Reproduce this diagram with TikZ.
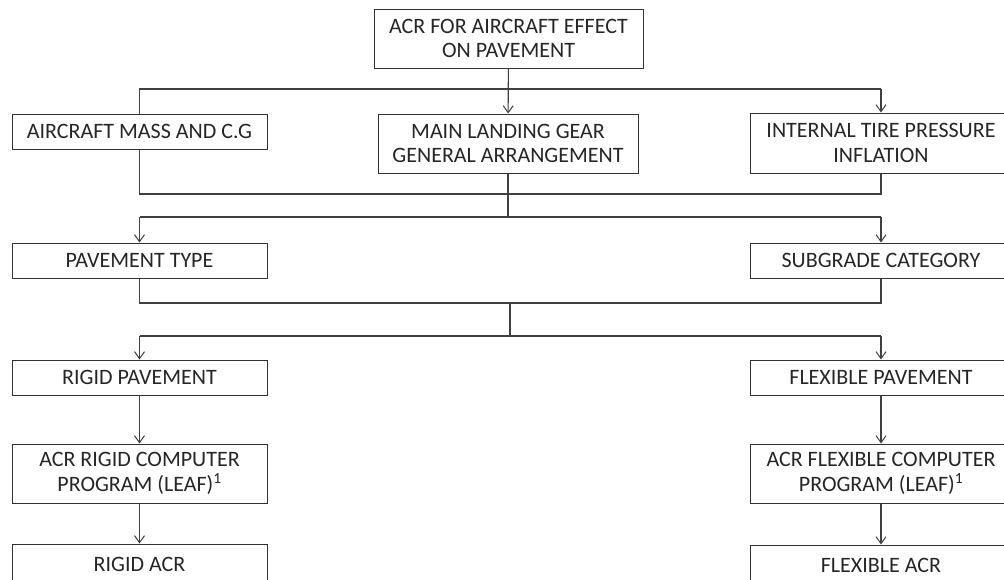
\documentclass[tikz,border=0pt]{standalone}
\usepackage{fontspec}
\setmainfont{Carlito}
\usetikzlibrary{arrows.meta}
\begin{document}
\begin{tikzpicture}[x=1pt,y=-1pt,
  box/.style={draw=black!80, line width=1pt, align=center, inner sep=0pt,
    font=\fontsize{22}{24.5}\selectfont, text=black!85},
  lbox/.style={box, minimum width=255pt},
  rbox/.style={box, minimum width=262pt},
  conn/.style={draw=black!75, line width=1.1pt},
  arr/.style={conn, -{Straight Barb[length=7pt,width=10pt,line width=1pt]}}]
\useasboundingbox (0,0) rectangle (1004,579);
\clip (0,0) rectangle (1004,579);
\fill[white] (0,0) rectangle (1004,579);

\node[box, minimum width=269pt, minimum height=59pt] (top) at (508.5,38.5)
  {ACR FOR AIRCRAFT EFFECT\\ON PAVEMENT};
\node[lbox, minimum height=35pt] (mass) at (139.5,131.5) {AIRCRAFT MASS AND C.G};
\node[box, minimum width=260pt, minimum height=59pt] (main) at (508,143.5)
  {MAIN LANDING GEAR\\GENERAL ARRANGEMENT};
\node[rbox, minimum height=60pt] (tire) at (881,143)
  {INTERNAL TIRE PRESSURE\\INFLATION};
\node[lbox, minimum height=35pt] (ptype) at (139.5,260.5) {PAVEMENT TYPE};
\node[rbox, minimum height=35pt] (subg) at (881,260.5) {SUBGRADE CATEGORY};
\node[lbox, minimum height=35pt] (rigid) at (139.5,377.5) {RIGID PAVEMENT};
\node[rbox, minimum height=35pt] (flex) at (881,377.5) {FLEXIBLE PAVEMENT};
\node[lbox, minimum height=59pt] (acrr) at (139.5,473.5)
  {ACR RIGID COMPUTER\\PROGRAM (LEAF)\textsuperscript{1}};
\node[rbox, minimum height=59pt] (acrf) at (881,473.5)
  {ACR FLEXIBLE COMPUTER\\PROGRAM (LEAF)\textsuperscript{1}};
\node[lbox, minimum height=40pt] (rigacr) at (139.5,564) {RIGID ACR};
\node[rbox, minimum height=40pt] (flexacr) at (881,565) {FLEXIBLE ACR};

\coordinate (y1) at (0,89);
\coordinate (y2) at (0,194);
\coordinate (y3) at (0,217);
\coordinate (y4) at (0,303);
\coordinate (y5) at (0,336);
\coordinate (mid) at (510,0);

\draw[arr] (top) -- (main);
\draw[conn] (mass.north) -- (mass.north |- y1) -- (tire.north |- y1);
\draw[arr] (tire.north |- y1) -- (tire.north);
\draw[conn] (mass.south) -- (mass.south |- y2) -- (tire.south |- y2) -- (tire.south);
\draw[conn] (main.south) -- (main.south |- y3);
\draw[conn] (ptype.north |- y3) -- (subg.north |- y3);
\draw[arr] (ptype.north |- y3) -- (ptype.north);
\draw[arr] (subg.north |- y3) -- (subg.north);
\draw[conn] (ptype.south) -- (ptype.south |- y4) -- (subg.south |- y4) -- (subg.south);
\draw[conn] (mid |- y4) -- (mid |- y5);
\draw[conn] (rigid.north |- y5) -- (flex.north |- y5);
\draw[arr] (rigid.north |- y5) -- (rigid.north);
\draw[arr] (flex.north |- y5) -- (flex.north);
\draw[arr] (rigid) -- (acrr);
\draw[arr] (acrr) -- (rigacr);
\draw[arr] (flex) -- (acrf);
\draw[arr] (acrf) -- (flexacr);
\end{tikzpicture}
\end{document}
